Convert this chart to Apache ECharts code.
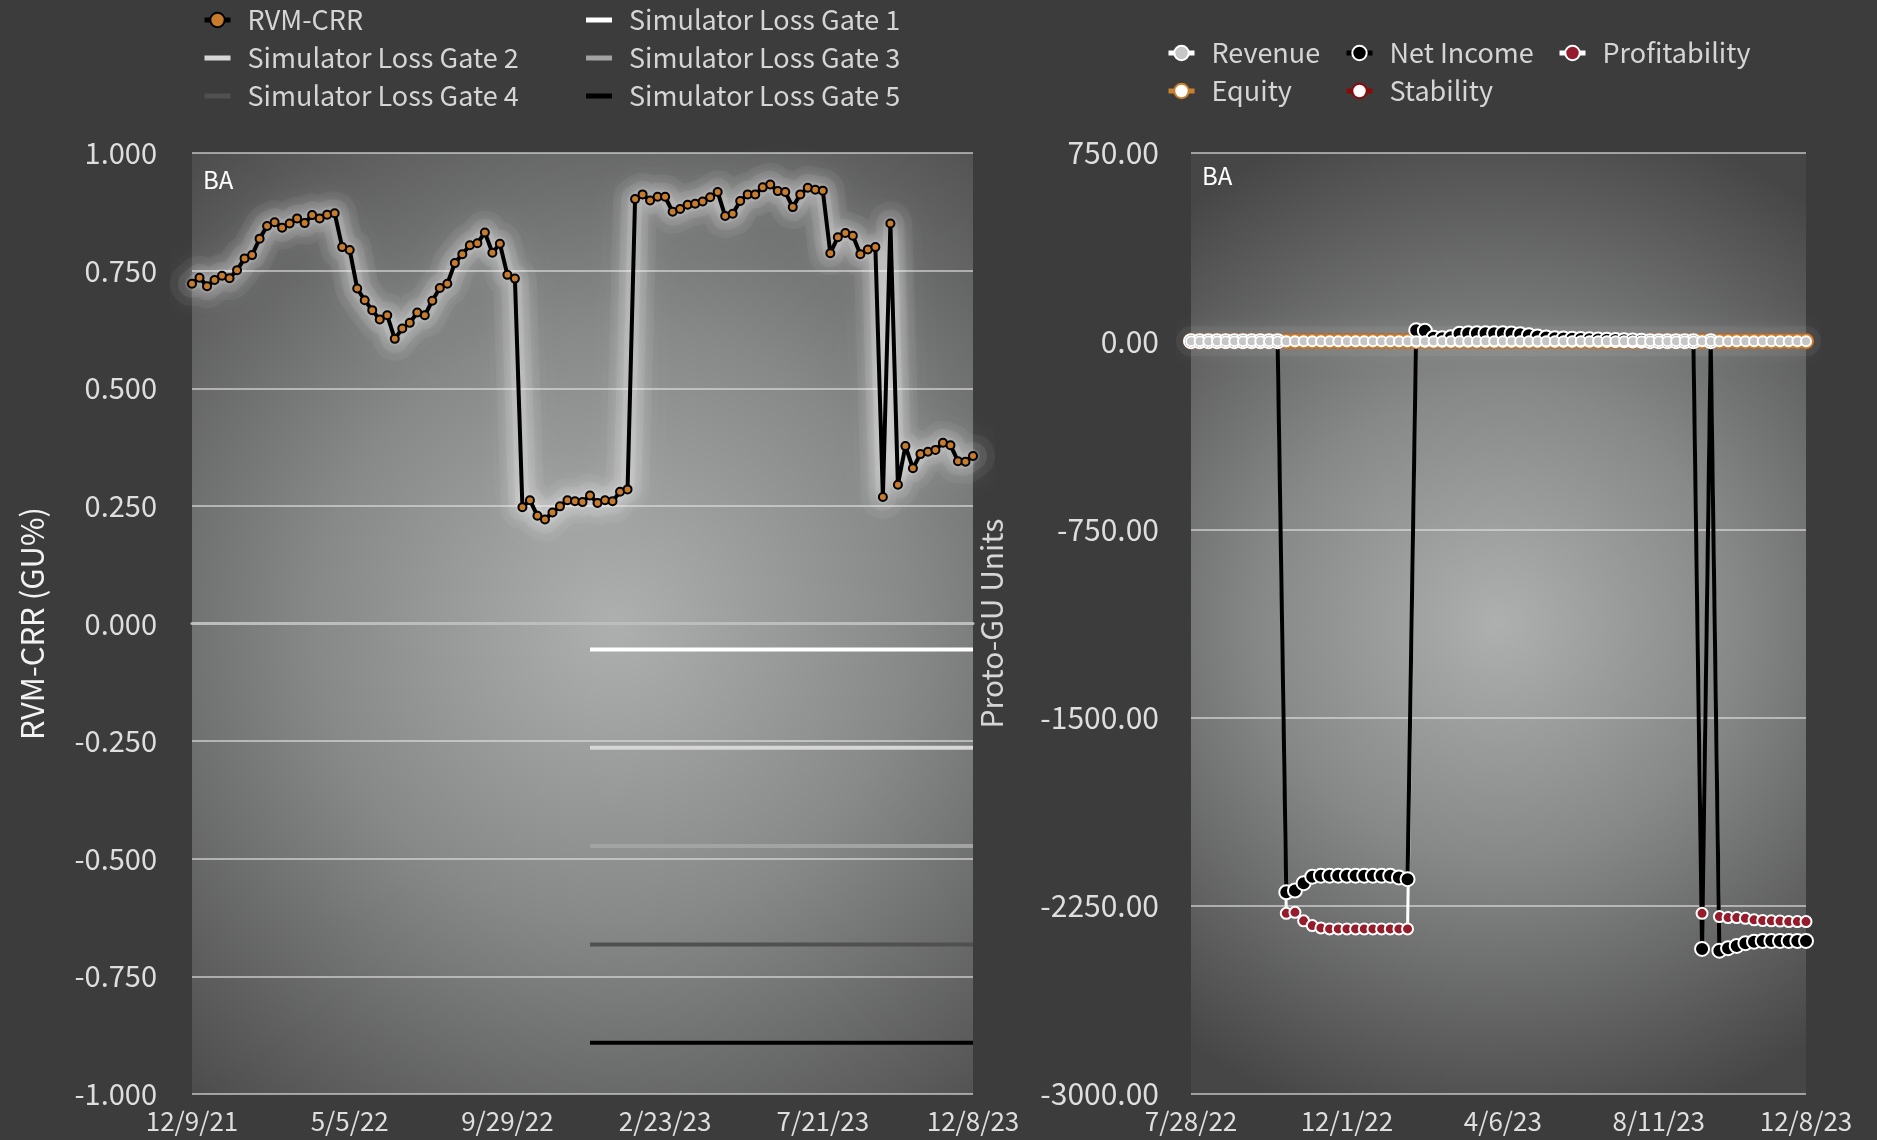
<!DOCTYPE html>
<html><head><meta charset="utf-8">
<script src="https://cdn.jsdelivr.net/npm/echarts@6/dist/echarts.min.js"></script>
<style>html,body{margin:0;padding:0;background:#3c3c3c;}#c{width:1877px;height:1140px;}</style>
</head><body><div id="c"></div>
<script>
const FONT = '"Noto Sans CJK KR", "Noto Sans", sans-serif';

// ---- categories (weekly dates) ----
function buildDates(y, m, d, count, fridayFrom) {
  const out = [];
  for (let i = 0; i < count; i++) {
    const dt = new Date(y, m, d + 7 * i + (i >= fridayFrom ? 1 : 0));
    out.push((dt.getMonth() + 1) + '/' + dt.getDate() + '/' + String(dt.getFullYear()).slice(2));
  }
  return out;
}
const leftDates = buildDates(2021, 11, 9, 105, 70);
const rightDates = leftDates.slice(33);

// ---- left panel data ----
const rvmCrr = [
  0.722, 0.735, 0.717, 0.730, 0.739, 0.734, 0.751, 0.776, 0.783, 0.818,
  0.845, 0.853, 0.841, 0.850, 0.861, 0.851, 0.868, 0.861, 0.869, 0.872,
  0.800, 0.794, 0.712, 0.687, 0.666, 0.646, 0.655, 0.605, 0.627, 0.639,
  0.661, 0.655, 0.686, 0.713, 0.722, 0.766, 0.785, 0.804, 0.808, 0.831,
  0.788, 0.807, 0.741, 0.733, 0.247, 0.262, 0.229, 0.221, 0.236, 0.249,
  0.262, 0.260, 0.258, 0.272, 0.256, 0.262, 0.260, 0.280, 0.285, 0.902,
  0.912, 0.899, 0.907, 0.907, 0.875, 0.881, 0.890, 0.892, 0.897, 0.906,
  0.917, 0.866, 0.871, 0.898, 0.912, 0.912, 0.927, 0.933, 0.919, 0.917,
  0.885, 0.912, 0.926, 0.922, 0.920, 0.787, 0.821, 0.830, 0.824, 0.785,
  0.795, 0.800, 0.269, 0.850, 0.295, 0.377, 0.330, 0.360, 0.365, 0.369,
  0.384, 0.379, 0.345, 0.344, 0.356
];
const gateNames = ['Simulator Loss Gate 1', 'Simulator Loss Gate 2', 'Simulator Loss Gate 3', 'Simulator Loss Gate 4', 'Simulator Loss Gate 5'];
const gateLevels = [-0.055, -0.264, -0.473, -0.682, -0.891];
const gateStart = '12/15/22';
const gateEnd = '12/8/23';
const leftTicks = { min: -1, max: 1, interval: 0.25 };

// ---- right panel data ----
const revenue = [
  0,0,0,0,0,0,0,0,0,0, 0,0,0,0,0,0,0,0,0,0, 0,0,0,0,0,0,0,0,0,0,
  0,0,0,0,0,0,0,0,0,0, 0,0,0,0,0,0,0,0,0,0, 0,0,0,0,0,0,0,0,0,0,
  0,0,0,0,0,0,0,0,0,0, 0,0
];
const netIncome = [
  0,0,0,0,0,0,0,0,0,0,
  0,-2196,-2189,-2160,-2134,-2130,-2130,-2130,-2130,-2130,
  -2130,-2130,-2130,-2130,-2137,-2144,44,42,14,12,
  16,30,32,32,32,32,32,31,28,24,
  19,15,12,11,10,9,8,7,6,5,
  4,3,2,0,0,0,0,0,0,-2422,
  0,-2429,-2419,-2410,-2399,-2393,-2390,-2390,-2390,-2390,
  -2390,-2390
];
const profitability = [
  0,0,0,0,0,0,0,0,0,0,
  0,-2280,-2276,-2310,-2329,-2338,-2342,-2342,-2342,-2342,
  -2342,-2342,-2342,-2342,-2342,-2342,0,0,0,0,
  0,0,0,0,0,0,0,0,0,0,
  0,0,0,0,0,0,0,0,0,0,
  0,0,0,0,0,0,0,0,0,-2280,
  0,-2293,-2297,-2297,-2300,-2306,-2309,-2310,-2311,-2313,
  -2313,-2313
];
const equity = [
  0,0,0,0,0,0,0,0,0,0, 0,0,0,0,0,0,0,0,0,0, 0,0,0,0,0,0,0,0,0,0,
  0,0,0,0,0,0,0,0,0,0, 0,0,0,0,0,0,0,0,0,0, 0,0,0,0,0,0,0,0,0,0,
  0,0,0,0,0,0,0,0,0,0, 0,0
];
const stability = [
  0,0,0,0,0,0,0,0,0,0, 0,0,0,0,0,0,0,0,0,0, 0,0,0,0,0,0,0,0,0,0,
  0,0,0,0,0,0,0,0,0,0, 0,0,0,0,0,0,0,0,0,0, 0,0,0,0,0,0,0,0,0,0,
  0,0,0,0,0,0,0,0,0,0, 0,0
];
const rightTicks = { min: -3000, max: 750, interval: 750 };

// ---- styling ----
const gateColors = ['#ffffff', '#d6d6d6', '#a3a3a3', '#505050', '#000000'];
const barIcon = 'path://M0,0L26,0L26,5L0,5Z';
function plotBg(cx) {
  return new echarts.graphic.RadialGradient(cx, 0.5, 0.85, [
    { offset: 0, color: '#aeafaf' },
    { offset: 0.45, color: '#878888' },
    { offset: 1, color: '#464646' }
  ]);
}
const legendCommon = {
  orient: 'vertical', itemWidth: 26, itemHeight: 18, itemGap: 10, padding: 0,
  textStyle: { color: '#d5d5d5', fontSize: 27, fontFamily: FONT, lineHeight: 28, padding: [0, 0, 0, 12] },
  lineStyle: { width: 5, shadowBlur: 0 },
  inactiveColor: '#777'
};
const axisLabelX = { color: '#dedede', fontSize: 26, fontFamily: FONT, margin: 14 };

// soft white halo drawn beneath a line, built from the same data
function halo(data, xi, yi, width, alpha, blur) {
  return {
    type: 'line', xAxisIndex: xi, yAxisIndex: yi, data: data, silent: true,
    symbol: 'none', z: 1, tooltip: { show: false },
    lineStyle: { color: 'rgba(255,255,255,' + alpha + ')', width: width, cap: 'round', join: 'round',
      shadowColor: '#ffffff', shadowBlur: blur }
  };
}

const chart = echarts.init(document.getElementById('c'), null, { renderer: 'canvas' });
chart.setOption({
  backgroundColor: '#3c3c3c',
  animation: false,
  title: [
    { text: 'BA', left: 203, top: 168, padding: 0, textStyle: { color: '#ffffff', fontSize: 24, fontWeight: 'normal', fontFamily: FONT } },
    { text: 'BA', left: 1202, top: 164, padding: 0, textStyle: { color: '#ffffff', fontSize: 24, fontWeight: 'normal', fontFamily: FONT } }
  ],
  legend: [
    Object.assign({ left: 202, top: 6, data: ['RVM-CRR', { name: gateNames[1], icon: barIcon }, { name: gateNames[3], icon: barIcon }] }, legendCommon),
    Object.assign({ left: 586, top: 6, data: [{ name: gateNames[0], icon: barIcon }, { name: gateNames[2], icon: barIcon }, { name: gateNames[4], icon: barIcon }] }, legendCommon),
    Object.assign({ left: 1166, top: 39, data: ['Revenue', 'Equity'] }, legendCommon),
    Object.assign({ left: 1344, top: 39, data: ['Net Income', 'Stability'] }, legendCommon),
    Object.assign({ left: 1557, top: 39, data: ['Profitability'] }, legendCommon)
  ],
  grid: [
    { left: 192, top: 153, width: 781, height: 941, show: true, borderWidth: 0, backgroundColor: plotBg(0.54) },
    { left: 1191, top: 153, width: 615, height: 941, show: true, borderWidth: 0, backgroundColor: plotBg(0.5) }
  ],
  xAxis: [
    {
      gridIndex: 0, type: 'category', data: leftDates, boundaryGap: false,
      axisLine: { lineStyle: { color: '#bdbdbd', width: 3 } }, axisTick: { show: false },
      axisLabel: Object.assign({ interval: (i) => i % 21 === 0 || i === leftDates.length - 1 }, axisLabelX),
      splitLine: { show: false }
    },
    {
      gridIndex: 1, type: 'category', data: rightDates, boundaryGap: false,
      axisLine: { lineStyle: { color: '#e8e8e8', width: 3 } }, axisTick: { show: false },
      axisLabel: Object.assign({ interval: (i) => i % 18 === 0 || i === rightDates.length - 1 }, axisLabelX),
      splitLine: { show: false }
    }
  ],
  yAxis: [
    {
      gridIndex: 0, type: 'value', min: leftTicks.min, max: leftTicks.max, interval: leftTicks.interval,
      name: 'RVM-CRR (GU%)', nameLocation: 'middle', nameGap: 144,
      nameTextStyle: { color: '#f2f2f2', fontSize: 31, fontFamily: FONT },
      axisLine: { show: false }, axisTick: { show: false },
      axisLabel: { margin: 35, color: '#dedede', fontSize: 29, fontFamily: FONT, formatter: (v) => v.toFixed(3) },
      splitLine: { lineStyle: { color: 'rgba(225,225,225,0.8)', width: 1.5 } }
    },
    {
      gridIndex: 1, type: 'value', min: rightTicks.min, max: rightTicks.max, interval: rightTicks.interval,
      name: 'Proto-GU Units', nameLocation: 'middle', nameGap: 184,
      nameTextStyle: { color: '#d6d6d6', fontSize: 30, fontFamily: FONT },
      axisLine: { show: false }, axisTick: { show: false },
      axisLabel: { margin: 32, color: '#dedede', fontSize: 30, fontFamily: FONT, formatter: (v) => v.toFixed(2) },
      splitLine: { lineStyle: { color: 'rgba(225,225,225,0.8)', width: 1.5 } }
    }
  ],
  series: [
    halo(rvmCrr, 0, 0, 44, 0.05, 40),
    halo(rvmCrr, 0, 0, 28, 0.07, 28),
    halo(rvmCrr, 0, 0, 14, 0.10, 18),
    {
      name: 'RVM-CRR', type: 'line', xAxisIndex: 0, yAxisIndex: 0, data: rvmCrr,
      symbol: 'circle', symbolSize: 8, showSymbol: true, showAllSymbol: true, z: 5,
      itemStyle: { color: '#c77b2c', borderColor: '#000000', borderWidth: 2 },
      lineStyle: { color: '#000000', width: 4, shadowColor: '#ffffff', shadowBlur: 18 }
    }
  ].concat(gateNames.map((n, k) => ({
    name: n, type: 'line', xAxisIndex: 0, yAxisIndex: 0,
    data: [[gateStart, gateLevels[k]], [gateEnd, gateLevels[k]]],
    symbol: 'none', z: 3,
    itemStyle: { color: gateColors[k] },
    lineStyle: { color: gateColors[k], width: 4 }
  }))).concat([
    halo(revenue, 1, 1, 30, 0.05, 30),
    halo(revenue, 1, 1, 16, 0.08, 20),
    {
      name: 'Stability', type: 'line', xAxisIndex: 1, yAxisIndex: 1, data: stability,
      symbol: 'circle', symbolSize: 13, showAllSymbol: true, z: 2,
      itemStyle: { color: '#ffffff', borderColor: '#8a0a0a', borderWidth: 3 },
      lineStyle: { color: '#8a0a0a', width: 3 }
    },
    {
      name: 'Equity', type: 'line', xAxisIndex: 1, yAxisIndex: 1, data: equity,
      symbol: 'circle', symbolSize: 13, showAllSymbol: true, z: 2,
      itemStyle: { color: '#ffffff', borderColor: '#c9812f', borderWidth: 3 },
      lineStyle: { color: '#c9812f', width: 4 }
    },
    {
      name: 'Profitability', type: 'line', xAxisIndex: 1, yAxisIndex: 1, data: profitability,
      symbol: 'circle', symbolSize: 11, showAllSymbol: true, z: 2,
      itemStyle: { color: '#951c2b', borderColor: '#ffffff', borderWidth: 2 },
      lineStyle: { color: '#ffffff', width: 3 }
    },
    {
      name: 'Net Income', type: 'line', xAxisIndex: 1, yAxisIndex: 1, data: netIncome,
      symbol: 'circle', symbolSize: 14, showAllSymbol: true, z: 2,
      itemStyle: { color: '#000000', borderColor: '#ffffff', borderWidth: 2 },
      lineStyle: { color: '#000000', width: 4 }
    },
    {
      name: 'Revenue', type: 'line', xAxisIndex: 1, yAxisIndex: 1, data: revenue,
      symbol: 'circle', symbolSize: 10, showAllSymbol: true, z: 2,
      itemStyle: { color: '#c6c6c6', borderColor: '#ffffff', borderWidth: 2 },
      lineStyle: { color: '#ffffff', width: 3 }
    }
  ])
});
</script></body></html>
